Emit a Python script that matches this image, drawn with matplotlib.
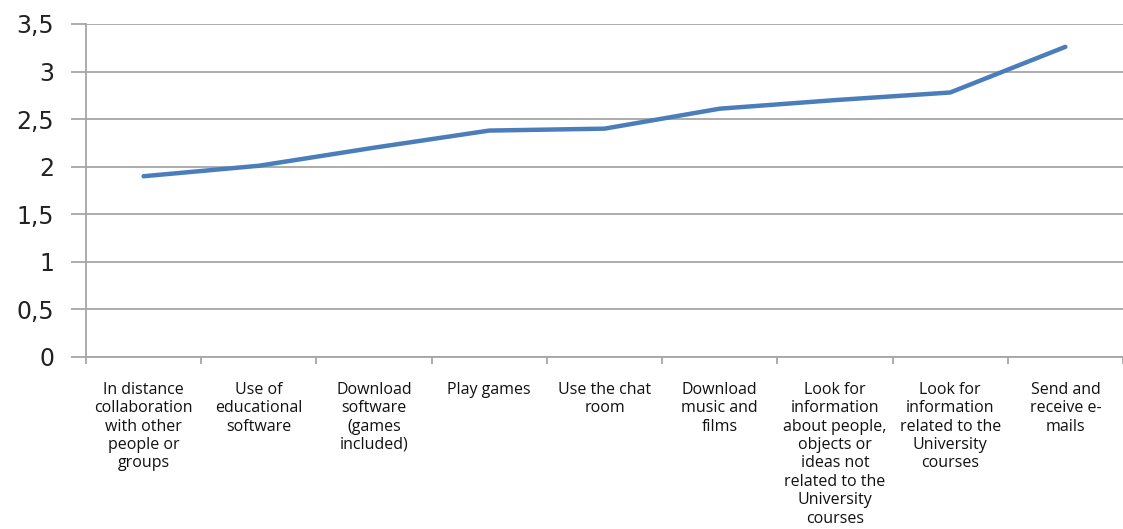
import matplotlib
matplotlib.use("Agg")
import matplotlib.pyplot as plt
from matplotlib.ticker import FixedLocator, FuncFormatter

categories = [
    "In distance\ncollaboration\nwith other\npeople or\ngroups",
    "Use of\neducational\nsoftware",
    "Download\nsoftware\n(games\nincluded)",
    "Play games",
    "Use the chat\nroom",
    "Download\nmusic and\nfilms",
    "Look for\ninformation\nabout people,\nobjects or\nideas not\nrelated to the\nUniversity\ncourses",
    "Look for\ninformation\nrelated to the\nUniversity\ncourses",
    "Send and\nreceive e-\nmails",
]
values = [1.90, 2.01, 2.20, 2.38, 2.40, 2.61, 2.70, 2.78, 3.26]
yticks = [0, 0.5, 1, 1.5, 2, 2.5, 3, 3.5]

W, H = 1123, 529
fig = plt.figure(figsize=(W / 100, H / 100), dpi=100)
ax = fig.add_axes([86 / W, 1 - 357 / H, (1123 - 86) / W, (357 - 24) / H])

n = len(categories)
x = list(range(n))
ax.plot(x, values, color="#4A7EBB", lw=3.2, solid_capstyle="round", solid_joinstyle="round", zorder=3)

ax.set_xlim(-0.5, n - 0.5)
ax.set_ylim(0, 3.5)
ax.yaxis.set_major_locator(FixedLocator(yticks))
ax.yaxis.set_major_formatter(FuncFormatter(lambda v, p: (f"{v:g}").replace(".", ",")))
ax.grid(axis="y", color="#A6A6A6", lw=1.3, zorder=0)
ax.tick_params(axis="y", length=11, width=1.3, color="#A6A6A6", pad=12, labelsize=17, labelcolor="#222222")

ax.set_xticks([i - 0.5 for i in range(n + 1)])
ax.set_xticklabels([])
ax.tick_params(axis="x", length=5, width=1.3, color="#A6A6A6")
for i, lab in enumerate(categories):
    ax.text(i, -0.26, lab, ha="center", va="top", fontsize=11.5, family="Open Sans",
            linespacing=1.2, color="#111111", transform=ax.transData, clip_on=False)

for s in ["top", "right"]:
    ax.spines[s].set_visible(False)
for s in ["left", "bottom"]:
    ax.spines[s].set_color("#A6A6A6")
    ax.spines[s].set_linewidth(1.3)

fig.savefig("out.png", dpi=100)
